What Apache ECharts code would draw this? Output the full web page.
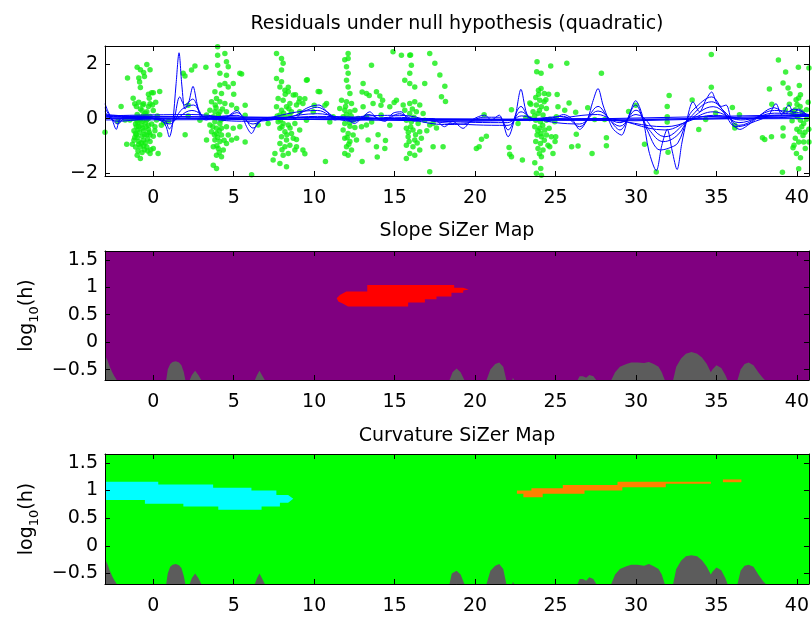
<!DOCTYPE html>
<html><head><meta charset="utf-8">
<script src="https://cdn.jsdelivr.net/npm/echarts@6/dist/echarts.min.js"></script>
<style>html,body{margin:0;padding:0;background:#fff}#c{width:812px;height:617px}</style>
</head><body><div id="c"></div>
<script>
// ---------- axes / ticks ----------
const X_MIN = -3, X_MAX = 40.75;
const xTicks = [0, 5, 10, 15, 20, 25, 30, 35, 40];
const resTicks = [-2, 0, 2];
const RES_MIN = -2.12, RES_MAX = 2.68;
const hTicks = [-0.5, 0, 0.5, 1, 1.5];
const H_MIN = -0.69, H_MAX = 1.66;
const titles = ['Residuals under null hypothesis (quadratic)', 'Slope SiZer Map', 'Curvature SiZer Map'];

// ---------- residual points (x, residual) ----------
const ptsA = [[-3.0,-0.5],[-2.2,-0.1],[-2.0,0.45],[-1.75,-0.05],[-1.65,-0.95],[-1.6,1.5],[-1.45,-0.05],
[-1.3,-0.95],[-1.25,0.75],[-1.2,0.0],[-1.2,-0.8],[-1.2,-0.45],[-1.15,0.55],[-1.1,-0.2],[-1.1,-1.05],[-1.05,0.45],[-1.05,-0.6],[-1.05,-0.3],[-1.0,1.9],[-1.0,0.15],[-1.0,-0.7],[-1.0,-1.35],
[-0.95,-0.4],[-0.95,-1.2],[-0.9,1.5],[-0.9,0.6],[-0.9,-0.85],[-0.9,-0.95],[-0.85,1.35],[-0.85,-0.5],[-0.8,1.8],[-0.8,1.15],[-0.8,0.35],[-0.8,-0.05],[-0.8,-1.05],[-0.8,-1.47],[-0.75,-0.25],[-0.7,0.3],[-0.7,-0.65],[-0.7,-1.25],[-0.65,0.5],[-0.65,-0.1],[-0.6,1.7],[-0.6,0.55],[-0.6,0.12],[-0.6,-0.45],[-0.6,-0.8],[-0.55,1.55],[-0.55,-1.15],[-0.5,-0.9],[-0.45,0.1],[-0.4,2.0],[-0.4,0.25],[-0.4,-0.05],[-0.4,-0.6],[-0.4,-1.05],[-0.35,-0.75],[-0.3,0.9],[-0.3,0.45],[-0.3,-0.25],[-0.3,-0.4],[-0.25,0.75],[-0.2,1.8],[-0.2,0.55],[-0.2,0.08],[-0.2,-0.6],[-0.2,-0.85],[-0.2,-1.29],[-0.15,-1.15],[-0.1,0.95],[0.0,0.3],[0.0,0.95],[0.0,-0.65],[0.0,-1.1],[0.1,-0.45],[0.1,-0.3],[0.2,-0.05],[0.25,0.1],[0.3,-1.29],[0.4,1.0],[0.4,-0.6],[0.5,-0.25],[0.65,-0.15],[0.95,-0.1],
[-1.1,-0.55],[-0.95,-0.15],[-0.85,0.05],[-0.75,-0.9],[-0.65,-0.35],[-0.55,-0.6],[-0.5,0.2],[-0.45,-0.3],[-0.35,-1.2],[-0.9,-0.3],[-0.7,0.05],[-0.5,-0.15],[-1.0,-0.1],[-0.6,-1.0],[-0.3,0.0],[-1.15,-0.7],[-0.25,-0.5],[-0.1,-0.2],[-0.05,0.5],[0.15,0.6],
[1.98,-0.6],[1.97,1.57],[2.59,1.94],[2.17,0.49],[2.17,0.1],[3.27,1.9],[2.38,1.79],[2.9,-0.06],[1.86,1.67]];
const ptsB = [[4.0,2.65],[4.0,2.34],[4.45,2.4],[4.0,1.97],[4.55,2.1],[4.66,1.91],[4.14,1.67],[4.55,1.6],[5.38,1.67],[4.45,1.3],[4.14,1.24],[4.66,1.17],[4.97,1.3],[3.83,0.99],[4.24,0.93],[3.62,0.62],[3.93,0.74],[4.14,0.62],[4.45,0.56],[4.87,0.5],[5.18,0.37],[3.52,0.31],[3.83,0.25],[4.14,0.25],[4.55,0.25],[3.31,0.13],[3.73,0.07],[4.04,0.07],[4.35,0.0],[3.83,-0.12],[4.14,-0.18],[3.52,-0.24],[3.93,-0.36],[4.24,-0.36],[4.55,-0.3],[4.97,-0.36],[5.38,-0.3],[3.62,-0.49],[3.93,-0.55],[4.24,-0.61],[4.66,-0.61],[5.18,-0.73],[3.31,-0.79],[3.83,-0.79],[4.14,-0.85],[4.55,-0.92],[4.87,-0.79],[3.73,-1.04],[4.04,-1.1],[4.35,-1.16],[3.93,-1.35],[4.24,-1.41],[3.73,-1.72],[3.93,-1.84],
[3.9,0.4],[4.1,-0.45],[4.0,-0.7],[3.85,0.5],[4.3,0.35],[4.2,-0.05],[3.95,-1.0],[4.05,0.15],[3.7,-0.3],[4.4,-0.8],[4.1,-1.25],[3.8,-0.6],
[5.71,0.49],[5.71,0.12],[5.71,-0.86],[5.49,1.65],[6.11,-2.07],[6.52,-0.24],[5.0,0.9]];
const ptsC = [[7.66,2.4],[7.97,2.22],[8.07,2.04],[7.97,1.79],[7.66,1.48],[7.97,1.36],[7.87,1.17],[8.18,1.05],[8.39,0.99],[8.7,0.87],[9.1,0.74],[9.52,1.42],[7.76,0.74],[8.07,0.68],[8.49,0.56],[8.9,0.5],[9.3,0.56],[7.66,0.44],[7.97,0.31],[8.28,0.44],[8.59,0.25],[7.87,0.13],[8.18,0.07],[8.49,0.13],[9.1,0.25],[7.76,-0.12],[8.07,-0.18],[8.39,-0.24],[8.8,-0.18],[7.87,-0.36],[8.18,-0.49],[8.59,-0.55],[9.1,-0.42],[7.97,-0.67],[8.28,-0.79],[8.7,-0.73],[7.87,-0.92],[8.18,-1.04],[8.49,-0.98],[8.9,-1.04],[7.56,-1.29],[8.07,-1.35],[8.39,-1.29],[7.87,-1.66],[7.45,-1.53],[8.28,-1.78],[9.3,-1.16],[10.35,0.99],[10.77,0.56],[9.94,0.25],[9.52,-0.06],[8.8,-1.16],[7.14,-0.18],
[9.57,1.43],[10.25,1.0],[10.67,0.49],[10.0,0.49],[9.42,0.73],[8.84,0.88],[8.39,1.16],[8.43,0.36],[9.05,0.61],[8.9,-0.77],[9.42,-1.3],[10.7,-1.58],[10.97,-0.13],[8.0,-0.3],[8.1,0.2],[7.9,-0.05],[8.3,-0.6],[8.0,-1.15],[8.2,0.9],[7.7,0.1],[8.5,-0.35]];
const ptsD = [[12.11,2.4],[12.11,2.22],[12.01,1.91],[12.11,1.67],[12.01,1.42],[12.11,1.17],[12.22,0.93],[11.7,0.68],[12.01,0.62],[12.32,0.56],[11.59,0.37],[11.9,0.31],[12.22,0.25],[12.53,0.31],[11.8,0.07],[12.11,0.0],[12.42,-0.06],[12.73,0.0],[11.9,-0.18],[12.22,-0.28],[12.53,-0.33],[11.8,-0.42],[12.11,-0.55],[12.42,-0.61],[11.9,-0.73],[12.22,-0.85],[12.63,-0.79],[12.01,-1.04],[12.32,-1.16],[11.9,-1.29],[12.11,-1.35],[13.04,0.44],[13.25,0.07],[12.94,-0.3],[13.56,1.97],[13.04,1.3],[13.25,0.93],[13.87,0.99],[13.66,0.56],[14.25,0.68],[13.35,-0.79],[13.87,-1.04],[14.39,-1.1],[13.25,-0.24],[14.16,0.13],[11.18,0.07],
[11.9,2.17],[13.42,0.85],[12.98,0.98],[14.15,0.49],[14.08,0.83],[13.57,-0.13],[13.97,-0.6],[14.43,-0.81],[12.98,-1.58],[13.92,-1.42],[14.7,-0.25],[14.97,0.59],[12.0,0.15],[12.2,-0.15],[12.05,-0.7],[12.3,0.1],[11.95,0.45],[12.15,-0.95]];
const ptsE = [[14.9,2.47],[15.42,2.34],[15.94,2.34],[17.18,2.4],[16.04,1.97],[15.94,1.67],[15.63,1.42],[15.94,1.3],[16.25,1.17],[17.5,2.04],[17.81,1.61],[16.87,1.3],[17.91,0.81],[15.11,0.68],[15.53,0.5],[15.94,0.56],[16.25,0.62],[16.56,0.5],[15.63,0.31],[15.94,0.19],[16.35,0.25],[16.77,0.19],[15.73,-0.06],[16.04,-0.12],[16.46,-0.18],[16.87,-0.06],[17.18,-0.24],[15.73,-0.36],[16.14,-0.42],[16.56,-0.49],[15.84,-0.67],[16.25,-0.79],[16.66,-0.73],[15.73,-0.98],[16.14,-1.04],[16.56,-1.16],[15.94,-1.29],[16.25,-1.35],[15.73,-1.47],[17.39,-1.04],[18.01,-1.04],[17.18,-1.96],[14.7,0.44],[17.39,-0.18],
[18.12,1.19],[18.16,0.63],[15.99,2.35],[16.0,-0.3],[16.2,0.05],[15.85,-0.5],[16.4,-0.9],[16.1,0.35],[15.9,-0.85],[16.3,-0.6],[17.0,-0.45],[17.6,-0.35]];
const ptsF = [[20.56,0.14],[20.08,-1.1],[20.25,-1.04],[20.4,-0.76],[20.7,-0.65],[22.26,0.33],[22.11,-1.07],[22.15,-1.32],[22.26,-1.41],[22.94,-1.53],[23.46,0.53],[23.15,0.04],[22.67,-0.18],
[23.85,2.1],[23.83,1.73],[24.1,1.67],[24.7,1.94],[25.7,2.04],[23.94,1.05],[24.1,1.11],[24.3,0.93],[24.57,0.9],[25.1,0.89],[23.77,0.78],[24.02,0.68],[24.29,0.62],[23.81,0.5],[24.12,0.44],[24.43,0.37],[23.6,0.25],[23.91,0.19],[24.22,0.13],[23.4,0.0],[23.77,-0.06],[24.06,-0.12],[24.43,-0.06],[23.71,-0.3],[24.02,-0.36],[24.33,-0.42],[24.6,-0.36],[23.85,-0.61],[24.12,-0.67],[24.43,-0.61],[24.74,-0.67],[23.77,-0.85],[24.06,-0.92],[24.53,-0.98],[23.91,-1.1],[24.22,-1.16],[24.64,-1.04],[24.12,-1.41],[23.71,-1.63],[24.08,-1.84],[23.81,-2.02],[24.12,-2.09],[24.95,-0.12],[25.05,0.07],[25.01,-0.67],[24.97,-0.85],[24.84,-1.29],[25.15,0.44],[25.57,0.31],[25.84,0.58],[26.25,0.23],[26.0,-1.04],[26.4,-1.01],[26.29,-0.58],[24.64,-0.02],[23.4,0.58],
[24.0,0.3],[24.2,-0.25],[23.9,-0.45],[24.3,-0.8],[24.0,-1.3],[23.95,0.9],[24.4,0.7],[24.1,-0.55],[23.7,0.1]];
const ptsG = [[27.85,1.67],[27.0,0.4],[27.43,-0.03],[28.05,-0.03],[28.16,-0.71],[28.16,-1.0],[27.27,-1.29],[29.54,0.26],[29.99,0.49],[30.53,-0.95],[31.26,-1.97],[31.94,0.45],[31.94,0.07],[31.94,-0.13],[31.99,-1.24],[32.06,0.85],[33.49,0.69],[33.9,-0.4],[34.33,-0.03],[34.68,2.37],[34.68,1.16],[34.95,0.21],[35.99,0.41],[36.14,-0.25],[36.14,-0.35],[36.43,0.14]];
const ptsH = [[37.86,-0.71],[38.0,-0.77],[38.42,-0.67],[38.29,1.09],[38.44,0.53],[38.85,2.16],[39.14,1.31],[39.3,1.72],[39.45,1.13],[39.57,0.92],[39.14,-0.35],[39.14,-0.64],[39.1,-1.98],[39.28,0.33],[39.53,0.53],[39.7,-0.08],[39.8,0.18],[39.9,0.33],[40.01,0.52],[40.11,0.76],[40.22,0.88],[40.15,1.22],[40.09,1.9],[40.75,1.87],[40.05,0.06],[40.22,-0.06],[40.42,-0.18],[40.0,-0.39],[40.17,-0.49],[40.38,-0.62],[39.9,-0.73],[40.11,-0.86],[39.76,-1.08],[39.97,-1.29],[40.22,-1.45],[40.11,-1.85],[40.6,0.33],[40.74,-0.39],[40.75,-0.86],[39.7,0.24],[40.32,0.24],[40.6,-0.02],[39.82,-0.98],[40.42,-0.86],[40.52,-1.1],
[40.0,0.1],[40.3,-0.3],[39.95,0.7],[40.2,0.45],[40.7,0.6],[40.5,-0.5]];

// ---------- smoothed residual curves (x, value), several bandwidths ----------
const curveN1 = [[-3,0.55],[-2.8,0.25],[-2.55,-0.05],[-2.3,-0.4],[-2.1,-0.05],[-1.8,0.05],[-1.2,0.0],[-0.6,0.05],[0,0.0],[0.5,-0.05],[0.8,-0.3],[1.0,-0.68],[1.2,-0.2],[1.42,1.3],[1.6,2.43],[1.78,1.2],[1.97,0.35],[2.2,0.6],[2.47,1.19],[2.72,0.55],[2.95,0.05],[3.3,-0.05],[3.8,0.05],[4.4,0.0],[4.9,0.2],[5.2,0.3],[5.55,0.05],[5.8,-0.3],[6.1,-0.55],[6.45,-0.2],[6.8,0.0],[7.5,0.05],[8.2,0.05],[8.8,0.0],[9.3,0.3],[9.8,0.45],[10.3,0.5],[10.8,0.25],[11.3,-0.05],[11.8,0.05],[12.5,-0.18],[13.0,0.05],[13.45,0.25],[13.9,0.0],[14.4,-0.1],[14.9,0.2],[15.4,0.25],[15.8,0.0],[16.3,-0.1],[16.8,0.0],[17.4,0.0],[18.1,-0.3],[18.6,-0.1],[19.25,-0.36],[19.8,-0.05],[20.6,0.13],[21.0,-0.05],[21.5,0.13],[22.05,-0.67],[22.5,0.1],[22.85,1.08],[23.2,0.2],[23.6,-0.05],[24.2,0.0],[25.0,0.05],[25.5,0.15],[26.0,0.0],[26.5,-0.4],[27.0,0.0],[27.3,0.6],[27.64,1.11],[27.95,0.5],[28.3,-0.05],[28.6,-0.4],[29.1,-0.61],[29.5,0.0],[29.98,0.66],[30.4,0.1],[30.8,-1.2],[31.26,-1.92],[31.6,-1.0],[31.94,-0.4],[32.25,-1.2],[32.55,-1.88],[32.85,-0.9],[33.13,-0.13],[33.54,0.62],[33.95,0.25],[34.35,0.7],[34.7,0.98],[35.0,0.6],[35.3,0.45],[35.6,0.5],[36.0,-0.2],[36.45,-0.4],[37.2,-0.15],[38.2,0.1],[38.7,0.55],[39.05,0.15],[39.5,0.5],[39.8,0.2],[40.1,0.35],[40.75,0.05]];
const curveN2 = [[-3,0.4],[-2.6,0.0],[-2.2,-0.2],[-1.8,0.0],[0,0.02],[0.7,-0.05],[1.0,-0.38],[1.3,0.0],[1.65,0.8],[1.95,0.5],[2.45,0.72],[2.85,0.3],[3.2,0.0],[4.5,0.05],[5.2,0.22],[5.7,0.0],[6.2,-0.35],[6.8,-0.05],[8.5,0.05],[9.5,0.3],[10.2,0.42],[10.8,0.25],[11.4,0.0],[12.5,-0.1],[13.4,0.15],[14.3,-0.05],[15.3,0.18],[16.2,-0.05],[18.1,-0.22],[19.3,-0.2],[20.5,0.05],[21.5,0.05],[22.05,-0.42],[22.85,0.45],[23.5,0.0],[25.5,0.08],[26.5,-0.3],[27.64,0.45],[28.3,0.0],[29.0,-0.42],[29.98,0.5],[30.6,-0.3],[31.5,-1.16],[32.0,-1.1],[32.6,-0.9],[33.2,0.0],[33.6,0.35],[34.7,0.8],[35.4,0.3],[36.2,-0.3],[37.0,-0.2],[38.6,0.4],[39.3,0.2],[39.8,0.35],[40.75,0.1]];
const curveN3 = [[-3,0.25],[-2.3,-0.1],[0,0.0],[1.0,-0.2],[1.8,0.35],[2.5,0.5],[3.2,0.05],[5.2,0.12],[6.2,-0.2],[7,0.0],[10.2,0.3],[11.5,0.0],[13.4,0.1],[15.3,0.12],[18,-0.15],[22.05,-0.25],[22.85,0.25],[23.6,0.0],[26.5,-0.2],[27.64,0.28],[29.0,-0.28],[30.0,0.31],[30.8,-0.4],[31.7,-0.85],[32.6,-0.6],[33.3,0.0],[34.7,0.62],[35.6,0.2],[36.4,-0.25],[38.6,0.3],[40.75,0.15]];
const curveN4 = [[-3,0.15],[0,0.0],[1.0,-0.1],[2.4,0.3],[3.5,0.0],[6.2,-0.1],[10.2,0.18],[12.5,-0.05],[15,0.05],[18,-0.1],[22.0,-0.15],[22.9,0.1],[24,-0.05],[27.6,0.15],[29.0,-0.15],[30.0,0.15],[31.8,-0.67],[33.3,-0.05],[34.8,0.44],[36.4,-0.15],[38.6,0.2],[40.75,0.12]];
const curveN5 = [[-3,0.1],[2.4,0.15],[6.2,-0.05],[10.2,0.08],[18,-0.05],[28,0.0],[31.8,-0.42],[33.5,0.0],[34.8,0.25],[36.5,-0.05],[38.6,0.12],[40.75,0.1]];
const curveN6 = [[-3,0.08],[10,0.03],[20,-0.05],[28,-0.05],[31.8,-0.3],[34.8,0.12],[37,0.0],[40.75,0.1]];
const curveF1 = [[-3,0.1],[10,0.03],[20,-0.06],[30,-0.05],[40.75,0.12]];
const curveF2 = [[-3,0.0],[10,0.02],[20,-0.02],[30,-0.08],[40.75,0.08]];
const curveF3 = [[-3,-0.05],[15,-0.02],[30,-0.02],[40.75,0.0]];
const curveF4 = [[-3,0.05],[20,-0.1],[40.75,0.15]];

// ---------- SiZer maps: region outlines (x, log10 h) ----------
const slopeRed = [[11.4,0.80],[11.6,0.86],[12.0,0.92],[13.3,0.92],[13.3,1.04],[18.7,1.04],[18.7,0.99],[19.25,0.99],[19.6,0.96],[19.26,0.94],[19.26,0.90],[18.53,0.90],[18.53,0.83],[17.6,0.83],[17.6,0.78],[16.88,0.78],[16.88,0.72],[15.84,0.72],[15.84,0.65],[12.1,0.65],[11.8,0.70],[11.5,0.74]];
const slopeGray = [[-3,-0.24],[-2.85,-0.33],[-2.7,-0.45],[-2.55,-0.55],[-2.4,-0.63],[-2.25,-0.7],
[0.8,-0.7],[0.9,-0.5],[1.05,-0.4],[1.2,-0.36],[1.4,-0.35],[1.6,-0.37],[1.75,-0.42],[1.9,-0.55],[2.0,-0.7],
[2.25,-0.7],[2.4,-0.6],[2.6,-0.52],[2.8,-0.6],[3.0,-0.7],
[6.3,-0.7],[6.45,-0.6],[6.6,-0.52],[6.75,-0.6],[6.95,-0.7],
[18.4,-0.7],[18.6,-0.55],[18.85,-0.48],[19.1,-0.55],[19.35,-0.7],
[20.7,-0.7],[20.95,-0.5],[21.25,-0.4],[21.5,-0.37],[21.75,-0.45],[21.95,-0.7],
[22.3,-0.7],[22.35,-0.65],[22.45,-0.7],
[26.35,-0.7],[26.5,-0.62],[26.7,-0.62],[26.9,-0.65],[27.1,-0.6],[27.35,-0.62],[27.55,-0.7],
[28.45,-0.7],[28.7,-0.55],[29.0,-0.45],[29.4,-0.4],[29.7,-0.37],[30.1,-0.37],[30.5,-0.38],[30.8,-0.36],[31.1,-0.4],[31.4,-0.45],[31.6,-0.55],[31.8,-0.7],
[32.3,-0.7],[32.5,-0.45],[32.8,-0.3],[33.1,-0.21],[33.45,-0.18],[33.8,-0.21],[34.1,-0.28],[34.4,-0.4],[34.65,-0.55],[34.75,-0.5],[35.0,-0.42],[35.3,-0.47],[35.55,-0.6],[35.7,-0.7],
[36.3,-0.7],[36.5,-0.5],[36.75,-0.4],[37.0,-0.37],[37.3,-0.42],[37.6,-0.55],[37.9,-0.66],[38.05,-0.7],[40.75,-0.7]];
const curvCyan = [[-3,1.16],[0.31,1.16],[0.31,1.11],[3.72,1.11],[3.72,1.05],[6.1,1.05],[6.1,1.0],[7.65,1.0],[7.65,0.92],[8.38,0.92],[8.7,0.85],[8.38,0.78],[7.87,0.78],[7.87,0.71],[6.73,0.71],[6.73,0.65],[4.04,0.65],[4.04,0.71],[1.87,0.71],[1.87,0.76],[-0.52,0.76],[-0.52,0.83],[-3,0.83]];
const curvOrange1 = [[22.6,1.0],[23.5,1.0],[23.5,1.04],[25.45,1.04],[25.45,1.1],[28.85,1.1],[28.85,1.16],[34.65,1.16],[34.65,1.12],[31.85,1.12],[31.85,1.06],[29.15,1.06],[29.15,1.0],[26.8,1.0],[26.8,0.94],[24.2,0.94],[24.2,0.88],[23.0,0.88],[23.0,0.94],[22.6,0.94]];
const curvOrange2 = [[35.4,1.2],[36.55,1.2],[36.55,1.15],[35.4,1.15]];
const curvGray = [[-3,-0.24],[-2.85,-0.33],[-2.7,-0.45],[-2.55,-0.55],[-2.4,-0.63],[-2.25,-0.7],
[0.8,-0.7],[0.9,-0.5],[1.05,-0.38],[1.2,-0.34],[1.4,-0.33],[1.6,-0.35],[1.75,-0.4],[1.9,-0.55],[2.0,-0.7],
[2.25,-0.7],[2.4,-0.58],[2.6,-0.5],[2.8,-0.58],[3.0,-0.7],
[6.3,-0.7],[6.45,-0.58],[6.6,-0.5],[6.75,-0.58],[6.95,-0.7],
[18.4,-0.7],[18.55,-0.5],[18.85,-0.45],[19.1,-0.52],[19.35,-0.7],
[20.7,-0.7],[20.95,-0.45],[21.25,-0.36],[21.5,-0.33],[21.75,-0.42],[21.95,-0.7],
[22.3,-0.7],[22.35,-0.65],[22.45,-0.7],
[26.35,-0.7],[26.5,-0.6],[26.7,-0.6],[26.9,-0.63],[27.1,-0.57],[27.35,-0.6],[27.55,-0.7],
[28.45,-0.7],[28.7,-0.52],[29.0,-0.42],[29.4,-0.37],[29.7,-0.34],[30.1,-0.34],[30.5,-0.36],[30.8,-0.33],[31.1,-0.37],[31.4,-0.42],[31.6,-0.52],[31.8,-0.7],
[32.3,-0.7],[32.5,-0.42],[32.8,-0.27],[33.1,-0.19],[33.45,-0.17],[33.8,-0.19],[34.1,-0.26],[34.4,-0.38],[34.65,-0.52],[34.75,-0.47],[35.0,-0.39],[35.3,-0.44],[35.55,-0.58],[35.7,-0.7],
[36.3,-0.7],[36.5,-0.45],[36.75,-0.36],[37.0,-0.34],[37.3,-0.38],[37.6,-0.52],[37.9,-0.64],[38.1,-0.7],[40.75,-0.7]];

// ---------- styling ----------
const FONT = 'DejaVu Sans';
const FS = 19;
const C_PURPLE = '#800080', C_GREEN = '#00ff00', C_GRAY = '#5c5c5c';
const fmt = v => (v < 0 ? '\u2212' : '') + Math.abs(v);
const GRID_L = 105, GRID_W = 704;
const grids = [
  {left: GRID_L, top: 46, width: GRID_W, height: 130},
  {left: GRID_L, top: 251, width: GRID_W, height: 129},
  {left: GRID_L, top: 454, width: GRID_W, height: 130}
];
const titleGaps = [12, 10, 8];

function xAxisDef(gi, pos, showLabel, title) {
  const ax = {
    type: 'value', gridIndex: gi, position: pos, min: X_MIN, max: X_MAX, z: 10,
    axisLine: {show: true, onZero: false, lineStyle: {color: '#000', width: 1}},
    axisTick: {show: true, inside: true, length: 5, customValues: xTicks, lineStyle: {color: '#000'}},
    axisLabel: {show: showLabel, customValues: xTicks, margin: 13, color: '#000', fontFamily: FONT, fontSize: FS, formatter: fmt},
    splitLine: {show: false}
  };
  if (title) {
    ax.name = title; ax.nameLocation = 'middle'; ax.nameGap = titleGaps[gi];
    ax.nameTextStyle = {color: '#000', fontFamily: FONT, fontSize: FS};
  }
  return ax;
}
function yAxisDef(gi, pos, showLabel, mn, mx, ticks, name) {
  const ax = {
    type: 'value', gridIndex: gi, position: pos, min: mn, max: mx, z: 10,
    axisLine: {show: true, onZero: false, lineStyle: {color: '#000', width: 1}},
    axisTick: {show: true, inside: true, length: 5, customValues: ticks, lineStyle: {color: '#000'}},
    axisLabel: {show: showLabel, customValues: ticks, margin: 7, color: '#000', fontFamily: FONT, fontSize: FS, formatter: fmt},
    splitLine: {show: false}
  };
  if (name) {
    ax.name = '{a|log}{s|10}{a|(h)}';
    ax.nameLocation = 'middle'; ax.nameRotate = 90; ax.nameGap = 63;
    ax.nameTextStyle = {rich: {
      a: {fontFamily: FONT, fontSize: FS, color: '#000', lineHeight: 28},
      s: {fontFamily: FONT, fontSize: 13, color: '#000', lineHeight: 14, verticalAlign: 'bottom'}
    }};
  }
  return ax;
}

function polySeries(poly, color, gi) {
  return {
    type: 'custom', xAxisIndex: gi * 2, yAxisIndex: gi * 2, data: poly, encode: {x: 0, y: 1}, silent: true,
    renderItem: function (params, api) {
      if (params.dataIndex !== 0) return null;
      return {type: 'polygon', shape: {points: poly.map(p => api.coord(p))}, style: {fill: color}};
    }
  };
}
function grayArea(data, gi) {
  return {
    type: 'line', xAxisIndex: gi * 2, yAxisIndex: gi * 2, data: data, symbol: 'none', silent: true,
    lineStyle: {width: 0, opacity: 0}, areaStyle: {color: C_GRAY, opacity: 1, origin: 'start'}
  };
}
function curve(data, smooth) {
  return {
    type: 'line', xAxisIndex: 0, yAxisIndex: 0, data: data, symbol: 'none', silent: true,
    smooth: smooth, lineStyle: {color: '#0000ff', width: 1}
  };
}

const allPts = [].concat(ptsA, ptsB, ptsC, ptsD, ptsE, ptsF, ptsG, ptsH);

const option = {
  animation: false,
  backgroundColor: '#fff',
  grid: [
    Object.assign({show: true, backgroundColor: '#fff', borderWidth: 0}, grids[0]),
    Object.assign({show: true, backgroundColor: C_PURPLE, borderWidth: 0}, grids[1]),
    Object.assign({show: true, backgroundColor: C_GREEN, borderWidth: 0}, grids[2])
  ],
  xAxis: [
    xAxisDef(0, 'bottom', true), xAxisDef(0, 'top', false, titles[0]),
    xAxisDef(1, 'bottom', true), xAxisDef(1, 'top', false, titles[1]),
    xAxisDef(2, 'bottom', true), xAxisDef(2, 'top', false, titles[2])
  ],
  yAxis: [
    yAxisDef(0, 'left', true, RES_MIN, RES_MAX, resTicks), yAxisDef(0, 'right', false, RES_MIN, RES_MAX, resTicks),
    yAxisDef(1, 'left', true, H_MIN, H_MAX, hTicks, true), yAxisDef(1, 'right', false, H_MIN, H_MAX, hTicks),
    yAxisDef(2, 'left', true, H_MIN, H_MAX, hTicks, true), yAxisDef(2, 'right', false, H_MIN, H_MAX, hTicks)
  ],
  series: [
    {type: 'scatter', xAxisIndex: 0, yAxisIndex: 0, data: allPts, symbol: 'circle', symbolSize: 5.5, clip: false, silent: true,
     itemStyle: {color: '#11ee11', borderWidth: 0}},
    curve(curveF1, 0), curve(curveF2, 0), curve(curveF3, 0), curve(curveF4, 0),
    curve(curveN6, 0.4), curve(curveN5, 0.4), curve(curveN4, 0.4), curve(curveN3, 0.4), curve(curveN2, 0.35), curve(curveN1, 0.3),
    polySeries(slopeRed, '#ff0000', 1),
    grayArea(slopeGray, 1),
    polySeries(curvCyan, '#00ffff', 2),
    polySeries(curvOrange1, '#ff8000', 2),
    polySeries(curvOrange2, '#ff8000', 2),
    grayArea(curvGray, 2)
  ]
};
const chart = echarts.init(document.getElementById('c'));
chart.setOption(option);
</script></body></html>
